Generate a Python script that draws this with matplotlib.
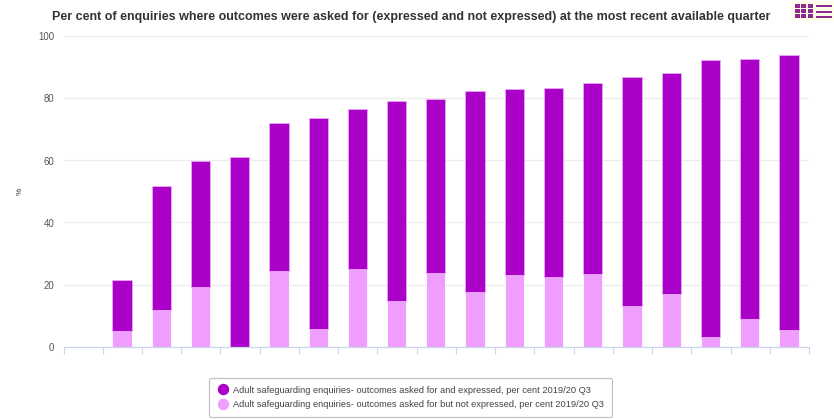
import matplotlib
matplotlib.use("Agg")
import matplotlib.pyplot as plt
from matplotlib.patches import Rectangle
import numpy as np

plt.rcParams['font.family'] = ['Liberation Sans', 'DejaVu Sans']

# values, one blank category at the start
categories = [""] * 19
expressed = [0, 16.3, 40.0, 40.6, 61.2, 47.7, 68.0, 51.7, 64.4, 56.0, 64.9, 60.2, 61.0, 61.5, 73.6, 71.4, 89.3, 83.8, 88.6]
not_expressed = [0, 5.0, 11.8, 19.2, 0, 24.3, 5.6, 25.0, 14.8, 23.8, 17.6, 23.0, 22.5, 23.5, 13.2, 16.9, 3.2, 9.0, 5.4]
y_ticks = [0, 20, 40, 60, 80, 100]
labels = ["Adult safeguarding enquiries- outcomes asked for and expressed, per cent 2019/20 Q3",
          "Adult safeguarding enquiries- outcomes asked for but not expressed, per cent 2019/20 Q3"]
title = "Per cent of enquiries where outcomes were asked for (expressed and not expressed) at the most recent available quarter"

dark = "#aa00c8"
light = "#ef9eff"

W, H = 834, 419
fig = plt.figure(figsize=(W / 100, H / 100), dpi=100)
ax = fig.add_axes([63.5 / W, 1 - 346.5 / H, 745.5 / W, 310 / H])

x = np.arange(len(categories))
ax.bar(x - 0.01, not_expressed, width=0.49, color=light, edgecolor="white", linewidth=0.6, zorder=3)
ax.bar(x - 0.01, expressed, width=0.49, bottom=not_expressed, color=dark, edgecolor="#e9a8f5", linewidth=0.6, zorder=3)

ax.set_xlim(-0.5, len(categories) - 0.5)
ax.set_ylim(0, 100)
ax.set_yticks(y_ticks)
ax.set_xticks(np.arange(len(categories) + 1) - 0.5)
ax.set_xticklabels([""] * (len(categories) + 1))
ax.tick_params(axis='x', length=5, width=0.8, color="#ccd6eb", direction='out')
ax.tick_params(axis='y', length=0, labelsize=6.9, labelcolor="#555555", pad=6.5)
ax.grid(True, axis='y', color="#ececec", linewidth=0.9, zorder=0)
ax.set_axisbelow(True)
for side in ['top', 'right', 'left']:
    ax.spines[side].set_visible(False)
ax.spines['bottom'].set_color("#ccd6eb")
ax.spines['bottom'].set_linewidth(0.9)
ax.spines['bottom'].set_zorder(4)

fig.text(20.5 / W, 1 - 191 / H, "%", rotation=90, fontsize=6, color="#333333", ha='center', va='center')
fig.text(411 / W, 1 - 17 / H, title, fontsize=9.0, fontweight='bold', color="#333333", ha='center', va='center')

handles = [plt.Line2D([], [], linestyle='none', marker='o', markersize=7.2, color=dark),
           plt.Line2D([], [], linestyle='none', marker='o', markersize=7.2, color=light)]
leg = fig.legend(handles, labels, loc='center', bbox_to_anchor=(410.5 / W, 1 - 397.5 / H),
                 fontsize=6.7, frameon=True, labelspacing=0.62, handletextpad=0.53,
                 borderpad=0.82, handlelength=1.27, labelcolor="#444444", borderaxespad=0)
leg.get_frame().set_edgecolor("#b5b5b5")
leg.get_frame().set_linewidth(0.9)

# grid and list buttons, top right
icon = "#8d2a8f"
fig.add_artist(Rectangle((791 / W, 1 - 21 / H), 43 / W, 20 / H, transform=fig.transFigure, color="#fffde8", lw=0))
for row in range(3):
    for col in range(3):
        fig.add_artist(Rectangle(((795 + col * 6.3) / W, 1 - (8 + row * 5) / H), 5 / W, 3.8 / H,
                                 transform=fig.transFigure, color=icon, lw=0))
    fig.add_artist(Rectangle((816 / W, 1 - (7 + row * 5.6) / H), 15.5 / W, 2 / H,
                             transform=fig.transFigure, color=icon, lw=0))

fig.savefig("out.png", dpi=100)
